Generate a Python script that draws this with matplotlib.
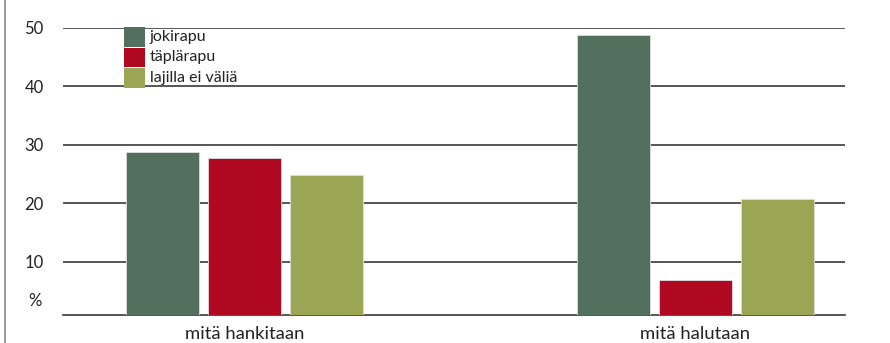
import matplotlib
matplotlib.use("Agg")
import matplotlib.pyplot as plt
from matplotlib.lines import Line2D
from matplotlib.patches import Rectangle
import numpy as np

categories = ["mitä hankitaan", "mitä halutaan"]
series_names = ["jokirapu", "täplärapu", "lajilla ei väliä"]
jokirapu = [28.8, 48.8]
taplarapu = [27.8, 6.9]
ei_valia = [24.9, 20.7]
yticks = [10, 20, 30, 40, 50]
colors = ["#52705D", "#B00820", "#9BA655"]

plt.rcParams['font.family'] = ['Lato', 'DejaVu Sans']

W, H = 890, 343
fig = plt.figure(figsize=(8.9, 3.43), dpi=100)
ax = fig.add_axes([63/W, 1-315.3/H, (845-63)/W, (315.3-28)/H])

x = np.arange(len(categories))
width = 0.162
step = 0.182
data = [jokirapu, taplarapu, ei_valia]
for i, (vals, name, c) in enumerate(zip(data, series_names, colors)):
    ax.bar(x + (i-1)*step, vals, width, color=c, edgecolor="#dddddd", linewidth=0.6, label=name, zorder=3)

ax.set_xlim(-0.4024, 1.3315)
ax.set_ylim(0.8, 50)
ax.set_yticks(yticks)
ax.set_yticklabels([str(t) for t in yticks], fontsize=12, color="#222222")
ax.set_xticks(x)
ax.set_xticklabels(categories, fontsize=13.3, color="#222222")
ax.tick_params(axis='x', length=0, pad=8)
ax.tick_params(axis='y', length=0, pad=14)
ax.yaxis.grid(True, color="#3a3a3a", linewidth=1.2, zorder=0)
ax.set_axisbelow(True)
for s in ["top", "right", "left"]:
    ax.spines[s].set_visible(False)
ax.spines["bottom"].set_color("#3a3a3a")
ax.spines["bottom"].set_linewidth(1.2)

ax.annotate("%", xy=(0, 0.8), xycoords=("axes fraction", "data"), xytext=(-20, 10),
            textcoords="offset points", ha="center", va="center", fontsize=12, color="#222222")

# manual legend (square swatches stacked tightly)
row_tops = [27.0, 47.6, 68.2]
sw_h = 19.6
for top, name, c in zip(row_tops, series_names, colors):
    fig.add_artist(Rectangle((124/W, 1-(top+sw_h)/H), 21.5/W, sw_h/H,
                             transform=fig.transFigure, facecolor=c, edgecolor="none", zorder=5))
    fig.text(150/W, 1-(top+sw_h/2)/H, name, fontsize=11.5, color="#222222",
             ha="left", va="center", zorder=5)

fig.add_artist(Line2D([5/W, 5/W], [0, 1], color="#888888", linewidth=1.2))

fig.savefig("out.png", dpi=100)
